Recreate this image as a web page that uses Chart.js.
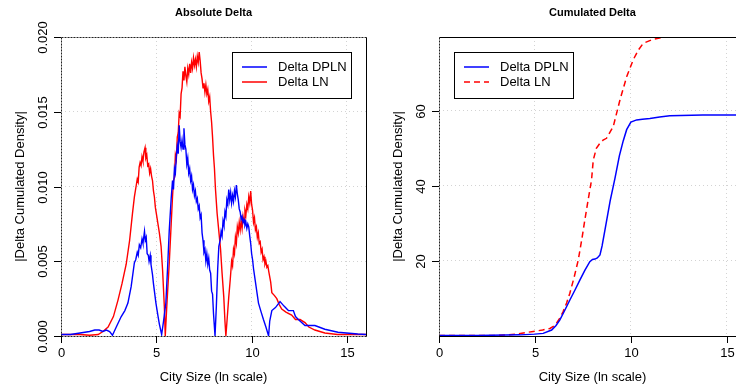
<!DOCTYPE html>
<html>
<head>
<meta charset="utf-8">
<script src="https://cdn.jsdelivr.net/npm/chart.js@4.4.0/dist/chart.umd.min.js"></script>
<style>
  html, body { margin: 0; padding: 0; background: #fff; overflow: hidden; }
  #wrap { position: relative; width: 736px; height: 390px; overflow: hidden; }
  canvas { position: absolute; top: 0; }
</style>
</head>
<body>
<div id="wrap">
  <canvas id="absChart" width="370" height="390" style="left:0"></canvas>
  <canvas id="cumChart" width="400" height="390" style="left:370px"></canvas>
</div>
<script>
// tick labels
const xTicks = [0, 5, 10, 15];
const absTicks = [0, 0.005, 0.010, 0.015, 0.020];
const cumTicks = [20, 40, 60];

// Absolute Delta - DPLN (blue), [city size, |delta|]
const absDpln = [
  [0, 0.0001], [0.5, 0.0001], [1.0, 0.0002], [1.5, 0.0003], [1.77, 0.0004], [2.0, 0.0004], [2.2, 0.0003],
  [2.38, 0.0004], [2.55, 0.0003], [2.7, 0.00005], [2.9, 0.0006], [3.16, 0.0013], [3.35, 0.0017], [3.51, 0.0022],
  [3.68, 0.0033], [3.85, 0.0049], [3.92, 0.0051], [4.0, 0.0056], [4.05, 0.0054], [4.11, 0.0061], [4.18, 0.0059],
  [4.25, 0.0065], [4.3, 0.0062], [4.38, 0.0070], [4.42, 0.0064], [4.47, 0.0066], [4.52, 0.0055], [4.58, 0.0054],
  [4.62, 0.0050], [4.68, 0.0054], [4.72, 0.0048], [4.8, 0.0041], [4.85, 0.0035], [4.98, 0.0022], [5.08, 0.0014],
  [5.16, 0.0008], [5.28, 0.0001], [5.38, 0.0010], [5.5, 0.0022], [5.6, 0.0048], [5.68, 0.0071], [5.78, 0.0092],
  [5.85, 0.0104], [5.90, 0.0098], [5.95, 0.0112], [6.00, 0.0109], [6.05, 0.0120], [6.10, 0.0127], [6.15, 0.0122],
  [6.20, 0.0141], [6.25, 0.0130], [6.30, 0.0126], [6.35, 0.0131], [6.40, 0.0125], [6.45, 0.0139], [6.50, 0.0128],
  [6.55, 0.0125], [6.60, 0.0115], [6.65, 0.0119], [6.70, 0.0109], [6.75, 0.0112], [6.80, 0.0104], [6.85, 0.0107],
  [6.90, 0.0098], [6.95, 0.0101], [7.00, 0.0094], [7.05, 0.0097], [7.10, 0.0090], [7.15, 0.0092], [7.20, 0.0085],
  [7.25, 0.0087], [7.30, 0.0079], [7.35, 0.0081], [7.40, 0.0069], [7.45, 0.0064], [7.50, 0.0056], [7.55, 0.0058],
  [7.60, 0.0050], [7.65, 0.0055], [7.70, 0.0048], [7.75, 0.0052], [7.80, 0.0044], [7.85, 0.0042], [7.90, 0.0030],
  [7.95, 0.0028], [8.00, 0.0015], [8.08, 0.0000], [8.15, 0.0020], [8.22, 0.0045], [8.28, 0.0060], [8.35, 0.0064],
  [8.40, 0.0070], [8.45, 0.0067], [8.50, 0.0077], [8.55, 0.0074], [8.60, 0.0083], [8.65, 0.0080], [8.70, 0.0091],
  [8.75, 0.0088], [8.80, 0.0098], [8.85, 0.0091], [8.90, 0.0096], [8.95, 0.0089], [9.00, 0.0094], [9.05, 0.0090],
  [9.10, 0.0097], [9.15, 0.0093], [9.20, 0.0101], [9.25, 0.0095], [9.30, 0.0091], [9.35, 0.0085], [9.40, 0.0083],
  [9.45, 0.0078], [9.50, 0.0080], [9.55, 0.0076], [9.60, 0.0078], [9.65, 0.0074], [9.70, 0.0076], [9.75, 0.0072],
  [9.80, 0.0075], [9.85, 0.0073], [9.90, 0.0067], [9.95, 0.0062], [10.00, 0.0055], [10.05, 0.0051], [10.10, 0.0045],
  [10.19, 0.0037], [10.28, 0.0029], [10.36, 0.0022], [10.5, 0.0016], [10.62, 0.0011], [10.75, 0.0006], [10.89, 0.0000],
  [10.95, 0.0010], [11.06, 0.0017], [11.25, 0.0019], [11.49, 0.0023], [11.7, 0.0020], [11.93, 0.0017], [12.19, 0.0017],
  [12.3, 0.0013], [12.45, 0.0011], [12.8, 0.0007], [13.32, 0.0007], [13.84, 0.00045], [14.53, 0.00025],
  [15.57, 0.00013], [16, 0.0001]
];

// Absolute Delta - LN (red)
const absLn = [
  [0, 0.0001], [0.5, 0.0001], [1.0, 0.0001], [1.5, 0.00005], [1.95, 0.0001], [2.2, 0.0003], [2.47, 0.0006],
  [2.75, 0.0013], [2.99, 0.0024], [3.2, 0.0035], [3.42, 0.0048], [3.6, 0.0064], [3.75, 0.0082], [3.85, 0.0093],
  [3.95, 0.0101], [4.0, 0.0105], [4.05, 0.0103], [4.1, 0.0113], [4.15, 0.0116], [4.2, 0.0114], [4.25, 0.0120],
  [4.3, 0.0117], [4.35, 0.0123], [4.41, 0.0126], [4.45, 0.0119], [4.5, 0.0121], [4.55, 0.0114], [4.6, 0.0115],
  [4.65, 0.0109], [4.7, 0.0112], [4.75, 0.0107], [4.8, 0.0104], [4.85, 0.0097], [4.9, 0.0093], [4.95, 0.0086],
  [5.0, 0.0082], [5.16, 0.0069], [5.25, 0.0060], [5.33, 0.0044], [5.42, 0.0020], [5.47, 0.0000], [5.55, 0.0020],
  [5.68, 0.0049], [5.78, 0.0075], [5.85, 0.0093], [5.90, 0.0104], [5.95, 0.0106], [6.00, 0.0121], [6.05, 0.0118],
  [6.10, 0.0133], [6.15, 0.0136], [6.20, 0.0149], [6.25, 0.0147], [6.30, 0.0162], [6.35, 0.0166], [6.40, 0.0177],
  [6.45, 0.0171], [6.50, 0.0180], [6.55, 0.0174], [6.60, 0.0170], [6.65, 0.0179], [6.70, 0.0175], [6.75, 0.0182],
  [6.80, 0.0176], [6.85, 0.0183], [6.90, 0.0179], [6.95, 0.0186], [7.00, 0.0181], [7.05, 0.0185], [7.10, 0.0180],
  [7.15, 0.0187], [7.20, 0.0183], [7.25, 0.0190], [7.30, 0.0184], [7.35, 0.0176], [7.40, 0.0172], [7.45, 0.0166],
  [7.50, 0.0169], [7.55, 0.0163], [7.60, 0.0168], [7.65, 0.0162], [7.70, 0.0165], [7.75, 0.0157], [7.80, 0.0160],
  [7.85, 0.0150], [7.90, 0.0143], [7.95, 0.0133], [8.00, 0.0121], [8.05, 0.0112], [8.1, 0.0099], [8.19, 0.0082],
  [8.28, 0.0070], [8.37, 0.0058], [8.45, 0.0042], [8.54, 0.0026], [8.6, 0.0010], [8.65, 0.0000], [8.72, 0.0012],
  [8.8, 0.0026], [8.88, 0.0038], [8.95, 0.0050], [9.00, 0.0047], [9.05, 0.0058], [9.10, 0.0055], [9.15, 0.0066],
  [9.20, 0.0062], [9.25, 0.0073], [9.30, 0.0069], [9.35, 0.0076], [9.40, 0.0071], [9.45, 0.0077], [9.50, 0.0072],
  [9.55, 0.0080], [9.60, 0.0076], [9.65, 0.0084], [9.70, 0.0081], [9.75, 0.0088], [9.80, 0.0085], [9.85, 0.0093],
  [9.90, 0.0089], [9.95, 0.0097], [10.00, 0.0088], [10.05, 0.0084], [10.10, 0.0076], [10.15, 0.0079], [10.20, 0.0071],
  [10.25, 0.0073], [10.30, 0.0066], [10.35, 0.0069], [10.40, 0.0062], [10.45, 0.0063], [10.50, 0.0056], [10.55, 0.0058],
  [10.60, 0.0051], [10.65, 0.0053], [10.70, 0.0048], [10.75, 0.0050], [10.80, 0.0046], [10.85, 0.0047], [10.90, 0.0043],
  [11.0, 0.0036], [11.06, 0.0029], [11.2, 0.0027], [11.32, 0.0025], [11.45, 0.0021], [11.58, 0.0018], [11.8, 0.0016],
  [12.1, 0.0014], [12.3, 0.0011], [12.54, 0.0011], [12.8, 0.0009], [13.0, 0.0006], [13.32, 0.0004], [13.84, 0.0002],
  [14.5, 0.0001], [15.3, 0.0001], [16, 0.0001]
];

// Cumulated Delta - DPLN (blue)
const cumDpln = [
  [0, 0.1], [2, 0.15], [4.22, 0.3], [5.0, 0.5], [5.43, 0.7], [5.87, 1.6], [6.1, 2.8], [6.3, 4.3], [6.55, 6.8],
  [6.82, 9.6], [7.1, 12.4], [7.34, 14.9], [7.6, 17.5], [7.86, 19.8], [8.0, 20.4], [8.13, 20.5], [8.25, 20.8],
  [8.39, 21.6], [8.5, 24], [8.65, 28.3], [8.92, 36], [9.17, 42], [9.4, 48], [9.6, 52], [9.78, 55], [10.0, 57],
  [10.3, 57.6], [10.6, 57.8], [10.99, 58.0], [11.5, 58.4], [12.03, 58.7], [13.75, 58.9], [16, 58.9]
];

// Cumulated Delta - LN (red, dashed)
const cumLn = [
  [0, 0.1], [3, 0.15], [4.05, 0.5], [4.5, 0.9], [4.91, 1.2], [5.4, 1.6], [5.78, 2.0], [6.0, 2.7], [6.12, 3.4],
  [6.3, 4.8], [6.47, 6.5], [6.65, 8.8], [6.82, 11.4], [7.05, 15.8], [7.26, 20.3], [7.45, 26], [7.6, 30.9],
  [7.78, 36.5], [7.95, 41.6], [8.04, 46.9], [8.2, 50], [8.39, 51.4], [8.55, 52.2], [8.73, 52.7], [9.08, 55.8],
  [9.43, 62.9], [9.78, 69.1], [10.12, 73.6], [10.4, 76.3], [10.64, 78.0], [11.16, 79.1], [11.68, 79.6],
  [12.5, 79.7], [16, 79.7]
];

const FONT = '"Liberation Sans", Arial, Helvetica, sans-serif';

function pts(pairs) {
  return pairs.map(p => ({ x: p[0], y: p[1] }));
}

// draws box, ticks, labels, titles and legend the R way
function rFrame(cfg) {
  return {
    id: 'rFrame',
    afterDraw(chart) {
      const ctx = chart.ctx;
      const a = chart.chartArea;
      const xs = chart.scales.x, ys = chart.scales.y;
      ctx.save();

      // box
      ctx.lineWidth = 1;
      const edges = {
        top: [a.left, a.top, a.right, a.top],
        bottom: [a.left, a.bottom, a.right, a.bottom],
        left: [a.left, a.top, a.left, a.bottom],
        right: [a.right, a.top, a.right, a.bottom]
      };
      Object.keys(edges).forEach(k => {
        const e = edges[k];
        const dotted = cfg.dotted.includes(k);
        ctx.setLineDash(dotted ? [2, 1] : []);
        ctx.strokeStyle = dotted ? '#222' : '#000';
        ctx.beginPath();
        ctx.moveTo(Math.round(e[0]) + 0.5, Math.round(e[1]) + 0.5);
        ctx.lineTo(Math.round(e[2]) + 0.5, Math.round(e[3]) + 0.5);
        ctx.stroke();
      });
      ctx.setLineDash([]);
      ctx.strokeStyle = '#000';

      // x ticks
      ctx.fillStyle = '#000';
      ctx.font = '13px ' + FONT;
      ctx.textAlign = 'center';
      ctx.textBaseline = 'middle';
      xTicks.forEach(v => {
        const px = Math.round(xs.getPixelForValue(v)) + 0.5;
        ctx.beginPath();
        ctx.moveTo(px, a.bottom);
        ctx.lineTo(px, a.bottom + 7);
        ctx.stroke();
        ctx.fillText(String(v), px, a.bottom + 17);
      });

      // y ticks (rotated labels)
      cfg.yTicks.forEach(v => {
        const py = Math.round(ys.getPixelForValue(v)) + 0.5;
        ctx.beginPath();
        ctx.moveTo(a.left, py);
        ctx.lineTo(a.left - 7, py);
        ctx.stroke();
        ctx.save();
        ctx.translate(a.left - 18, py);
        ctx.rotate(-Math.PI / 2);
        ctx.fillText(cfg.yFmt(v), 0, 0);
        ctx.restore();
      });

      // axis titles
      ctx.fillText('City Size (ln scale)', (a.left + a.right) / 2, a.bottom + 41);
      ctx.save();
      ctx.translate(a.left - 41, (a.top + a.bottom) / 2);
      ctx.rotate(-Math.PI / 2);
      ctx.fillText('|Delta Cumulated Density|', 0, 0);
      ctx.restore();

      // main title
      ctx.font = 'bold 11px ' + FONT;
      ctx.fillText(cfg.title, (a.left + a.right) / 2, 13);

      // legend
      const L = cfg.legend;
      ctx.fillStyle = '#fff';
      ctx.fillRect(L.x, L.y, L.w, L.h);
      ctx.strokeStyle = '#000';
      ctx.strokeRect(L.x + 0.5, L.y + 0.5, L.w, L.h);
      ctx.font = '13px ' + FONT;
      ctx.textAlign = 'left';
      chart.data.datasets.forEach((ds, i) => {
        const ly = L.y + 15 + i * 15;
        ctx.strokeStyle = ds.borderColor;
        ctx.lineWidth = 1.5;
        ctx.setLineDash(ds.borderDash || []);
        ctx.beginPath();
        ctx.moveTo(L.x + 10, ly);
        ctx.lineTo(L.x + 35, ly);
        ctx.stroke();
        ctx.setLineDash([]);
        ctx.fillStyle = '#000';
        ctx.fillText(ds.label, L.x + 46, ly);
      });
      ctx.restore();
    }
  };
}

function makeScales(yMin, yMax, yTickVals) {
  const grid = { color: '#d3d3d3', lineWidth: 1, drawTicks: false };
  return {
    x: {
      type: 'linear', min: 0, max: 16,
      afterBuildTicks: s => { s.ticks = xTicks.map(v => ({ value: v })); },
      ticks: { display: false },
      grid: grid,
      border: { display: false, dash: [1, 3] }
    },
    y: {
      type: 'linear', min: yMin, max: yMax,
      afterBuildTicks: s => { s.ticks = yTickVals.map(v => ({ value: v })); },
      ticks: { display: false },
      grid: grid,
      border: { display: false, dash: [1, 3] }
    }
  };
}

new Chart(document.getElementById('absChart'), {
  type: 'line',
  data: {
    datasets: [
      { label: 'Delta DPLN', data: pts(absDpln), borderColor: '#0000ff', borderWidth: 1.4 },
      { label: 'Delta LN', data: pts(absLn), borderColor: '#ff0000', borderWidth: 1.4 }
    ]
  },
  options: {
    responsive: false,
    animation: false,
    devicePixelRatio: 1,
    layout: { padding: { left: 61, right: 4, top: 37, bottom: 54 } },
    elements: { point: { radius: 0 }, line: { tension: 0 } },
    plugins: { legend: { display: false }, tooltip: { enabled: false } },
    scales: makeScales(0, 0.020, absTicks)
  },
  plugins: [rFrame({
    title: 'Absolute Delta',
    yTicks: absTicks,
    yFmt: v => v.toFixed(3),
    dotted: ['top', 'left', 'bottom'],
    legend: { x: 232, y: 52, w: 119, h: 46 }
  })]
});

new Chart(document.getElementById('cumChart'), {
  type: 'line',
  data: {
    datasets: [
      { label: 'Delta DPLN', data: pts(cumDpln), borderColor: '#0000ff', borderWidth: 1.5 },
      { label: 'Delta LN', data: pts(cumLn), borderColor: '#ff0000', borderWidth: 1.5, borderDash: [6, 4] }
    ]
  },
  options: {
    responsive: false,
    animation: false,
    devicePixelRatio: 1,
    layout: { padding: { left: 69, right: 24, top: 37, bottom: 54 } },
    elements: { point: { radius: 0 }, line: { tension: 0 } },
    plugins: { legend: { display: false }, tooltip: { enabled: false } },
    scales: makeScales(0, 79.7, [0].concat(cumTicks))
  },
  plugins: [rFrame({
    title: 'Cumulated Delta',
    yTicks: cumTicks,
    yFmt: v => String(v),
    dotted: ['left'],
    legend: { x: 84, y: 52, w: 119, h: 46 }
  })]
});
</script>
</body>
</html>
